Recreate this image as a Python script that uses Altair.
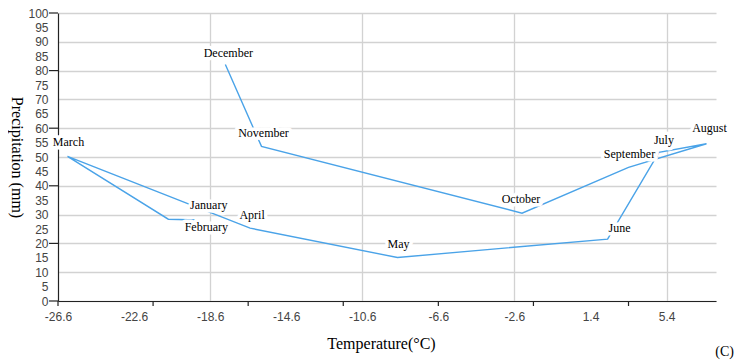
import altair as alt
import pandas as pd

# ---------------- data ----------------
months = ["January", "February", "March", "April", "May", "June",
          "July", "August", "September", "October", "November", "December"]
temperature = [-19.2, -20.8, -26.1, -16.5, -8.75, 2.3, 5.0, 7.5, 3.4, -2.2, -15.9, -17.8]
precipitation = [28.1, 28.4, 50.2, 25.3, 15.1, 21.5, 51.6, 54.6, 46.4, 30.5, 53.7, 82.1]

x_label_values = [-26.6, -22.6, -18.6, -14.6, -10.6, -6.6, -2.6, 1.4, 5.4]
x_grid_values = [-18.6, -10.6, -2.6, 5.4]
x_tick_values = [-26.6, -21.6, -16.6, -11.6, -6.6, -1.6, 3.4]
y_label_values = list(range(0, 101, 5))
y_tick_values = [0, 20, 40, 60, 80, 100]
X_DOMAIN = [-26.6, 8.0]
Y_DOMAIN = [0, 100]

# ---------------- style ----------------
W, H = 658, 288
LINE_COLOR = "#4aa3e8"
SERIF = "Liberation Serif"
SANS = "Liberation Sans"
# label offsets from each point, in pixels (dx right, dy down)
LABEL_OFFSET_PX = {
    "January": (10, -15), "February": (38, 8), "March": (1, -14),
    "April": (2, -13), "May": (1, -14), "June": (12, -11),
    "July": (5, -12), "August": (3, -16), "September": (1, -13),
    "October": (-1, -14), "November": (2, -13), "December": (3, -12),
}
px_x = W / (X_DOMAIN[1] - X_DOMAIN[0])
px_y = H / (Y_DOMAIN[1] - Y_DOMAIN[0])

df = pd.DataFrame({"month": months, "temp": temperature, "precip": precipitation,
                   "order": list(range(len(months)))})
df["lx"] = [t + LABEL_OFFSET_PX[m][0] / px_x for m, t in zip(months, temperature)]
df["ly"] = [p - LABEL_OFFSET_PX[m][1] / px_y for m, p in zip(months, precipitation)]

xgrid_test = "indexof([" + ",".join(str(v) for v in x_grid_values) + "], datum.value) >= 0"
hyphen = "replace(datum.label, '\u2212', '-')"

x_scale = alt.Scale(domain=X_DOMAIN, nice=False, zero=False)
y_scale = alt.Scale(domain=Y_DOMAIN, nice=False, zero=False)

x_axis = alt.Axis(
    values=x_label_values, format=".1f", labelExpr=hyphen, ticks=False, labelPadding=10,
    labelFont=SANS, labelFontSize=12, labelColor="#444", labelOverlap=False,
    grid=True, gridColor="#d2d2d2", gridWidth=1.3,
    gridOpacity={"condition": {"test": xgrid_test, "value": 1}, "value": 0},
    domainColor="#222", domainWidth=1.2,
    title="Temperature(°C)", titleFont=SERIF, titleFontSize=16, titleFontWeight="normal",
    titleColor="black", titleX=323, titleY=42, titleBaseline="middle", titleAlign="center",
)
y_axis = alt.Axis(
    values=y_label_values, ticks=False, labelPadding=10,
    labelFont=SANS, labelFontSize=12, labelColor="#444", labelOverlap=False,
    grid=True, gridColor="#d2d2d2", gridWidth=1.3,
    gridOpacity={"condition": {"test": "datum.value % 10 == 0", "value": 1}, "value": 0},
    domainColor="#222", domainWidth=1.2,
    title="Precipitation (mm)", titleFont=SERIF, titleFontSize=16, titleFontWeight="normal",
    titleColor="black", titleAngle=90, titleX=-42, titleY=H / 2,
    titleBaseline="middle", titleAlign="center",
)

base = alt.Chart(df)
line = base.mark_line(color=LINE_COLOR, strokeWidth=1.4).encode(
    x=alt.X("temp:Q", scale=x_scale, axis=x_axis),
    y=alt.Y("precip:Q", scale=y_scale, axis=y_axis),
    order="order:Q")

lx_enc = alt.X("lx:Q", scale=x_scale, axis=x_axis)
ly_enc = alt.Y("ly:Q", scale=y_scale, axis=y_axis)
halo = base.mark_text(font=SERIF, fontSize=12, stroke="white", strokeWidth=7,
                      fill="white", strokeJoin="round").encode(
    x=lx_enc, y=ly_enc, text="month:N")
labels = base.mark_text(font=SERIF, fontSize=12, color="black").encode(
    x=lx_enc, y=ly_enc, text="month:N")

xt = alt.Chart(pd.DataFrame({"v": x_tick_values})).mark_rule(color="#222", strokeWidth=1.2).encode(
    x=alt.X("v:Q", scale=x_scale, axis=x_axis), y=alt.value(H), y2=alt.value(H + 5))
yt = alt.Chart(pd.DataFrame({"v": y_tick_values})).mark_rule(color="#222", strokeWidth=1.2).encode(
    y=alt.Y("v:Q", scale=y_scale, axis=y_axis), x=alt.value(-9), x2=alt.value(0))

chart = alt.layer(line, xt, yt, halo, labels).properties(
    width=W, height=H,
    autosize=alt.AutoSizeParams(type="none"),
    padding={"left": 50, "top": 5, "right": 20, "bottom": 62},
    title=alt.TitleParams("(C)", orient="bottom", anchor="end", frame="group",
                          font=SERIF, fontSize=14, fontWeight="normal", color="black",
                          dx=18, offset=-6),
).configure_view(stroke=None).configure_axis(labelFlush=False)

chart.save("out.html", embed_options={"renderer": "svg", "actions": False})
